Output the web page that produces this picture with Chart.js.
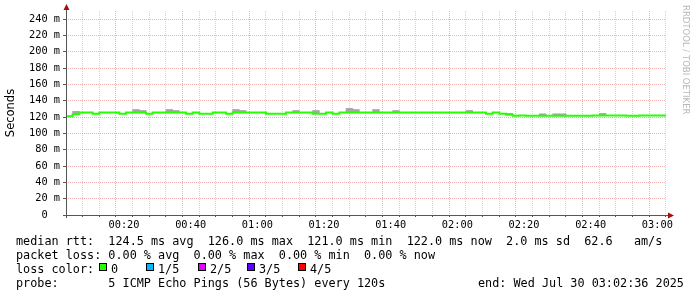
<!DOCTYPE html>
<html>
<head>
<meta charset="UTF-8">
<script src="https://cdn.jsdelivr.net/npm/chart.js@4"></script>
<style>
body { margin: 0; background: #fff; }
#wrap { position: relative; width: 697px; height: 297px; overflow: hidden; background: #fff; }
canvas { position: absolute; left: 0; top: 0; }
.leg { position: absolute; font: 11.8px 'DejaVu Sans Mono', monospace; color: #000; white-space: pre; line-height: 14px; }
.sq { position: absolute; top: 263px; width: 8px; height: 8px; border: 1px solid #000; box-sizing: border-box; }
.credit { position: absolute; left: 681px; top: 5px; writing-mode: vertical-rl; font: 8.5px 'DejaVu Sans', sans-serif; line-height: 10px; color: #b8b8b8; white-space: nowrap; }
</style>
</head>
<body>
<div id="wrap">
	<canvas id="c" width="697" height="297"></canvas>
	<div class="credit">RRDTOOL / TOBI OETIKER</div>
	<div class="leg" style="left:16px;top:234px">median rtt:  124.5 ms avg  126.0 ms max  121.0 ms min  122.0 ms now  2.0 ms sd  62.6   am/s</div>
	<div class="leg" style="left:16px;top:248px">packet loss: 0.00 % avg  0.00 % max  0.00 % min  0.00 % now</div>
	<div class="leg" style="left:16px;top:262px">loss color:</div>
	<div id="losses"></div>
	<div class="leg" style="left:16px;top:276px">probe:       5 ICMP Echo Pings (56 Bytes) every 120s</div>
	<div class="leg" style="left:478px;top:276px">end: Wed Jul 30 03:02:36 2025</div>
</div>
<script>
// time axis, minutes after midnight (00:02:36 .. 03:02:36)
const startMinute = 2.6;
const endMinute = 182.6;
const stepMinutes = 2;
const timeLabels = ['00:20', '00:40', '01:00', '01:20', '01:40', '02:00', '02:20', '02:40', '03:00'];
const yLabels = ['0  ', '20 m', '40 m', '60 m', '80 m', '100 m', '120 m', '140 m', '160 m', '180 m', '200 m', '220 m', '240 m'];

// median rtt per 2 min step, ms
const medianRtt = [
	121, 123.5, 125.5, 125.5, 124.2, 125.5, 125.5, 125.5, 124.2, 125.5,
	125.5, 125.5, 124.2, 125.5, 125.5, 125.5, 125.5, 125.5, 124.2, 125.5,
	124.2, 124.2, 125.5, 125.5, 124.2, 125.5, 125.5, 125.5, 125.5, 125.5,
	124.2, 124.2, 124.2, 125.5, 125.5, 125.5, 125.5, 124.2, 124.2, 125.5,
	124.2, 125.5, 125.5, 125.5, 125.5, 125.5, 125.5, 125.5, 125.5, 125.5,
	125.5, 125.5, 125.5, 125.5, 125.5, 125.5, 125.5, 125.5, 125.5, 125.5,
	125.5, 125.5, 125.5, 124.2, 125.5, 124, 123, 121.6, 122, 121.6,
	121.6, 121.6, 121.6, 121.6, 121.6, 121.6, 121.6, 121.6, 121.6, 122,
	122, 122, 122, 122, 121.6, 121.6, 122, 122, 122, 122
];
// top of the smoke (ping spread) per step, null where hidden under the median
const smokeTop = [
	null, 127, null, null, null, null, null, null, null, null,
	129.3, 128.1, null, null, null, 129.3, 128.1, null, null, null,
	null, null, null, null, null, 129.3, 128.1, null, null, null,
	null, null, null, null, 128.1, null, null, 128.1, null, null,
	null, null, 130.6, 129.3, null, null, 129.3, null, null, 128.1,
	null, null, null, null, null, null, null, null, null, null,
	128.1, null, null, null, null, null, 124.5, null, null, null,
	null, 124, null, 124, 124, null, null, null, null, null,
	124.5, null, null, null, null, null, null, null, null, null
];

const lossLabels = ['0', '1/5', '2/5', '3/5', '4/5'];
const lossColors = ['#26ff00', '#00b8ff', '#dd00ff', '#5e00ff', '#ff0000'];
const lossX = [99, 146, 198, 247, 298];

const losses = document.getElementById('losses');
lossLabels.forEach((l, i) => {
	const sq = document.createElement('div');
	sq.className = 'sq';
	sq.style.left = lossX[i] + 'px';
	sq.style.background = lossColors[i];
	losses.appendChild(sq);
	const t = document.createElement('div');
	t.className = 'leg';
	t.style.left = (lossX[i] + 12) + 'px';
	t.style.top = '262px';
	t.textContent = l;
	losses.appendChild(t);
});

const stepStart = medianRtt.map((v, i) => startMinute + i * stepMinutes);
const linePts = medianRtt.map((v, i) => ({ x: stepStart[i], y: v }));
linePts.push({ x: endMinute, y: medianRtt[medianRtt.length - 1] });
const smokePts = medianRtt.map((v, i) => ({ x: stepStart[i] + stepMinutes / 2, y: smokeTop[i] == null ? null : [v, smokeTop[i]] }));

const labelMinutes = timeLabels.map(t => +t.slice(0, 2) * 60 + +t.slice(3));
const xGrid = [];
for (let m = 5; m < endMinute; m += 5) xGrid.push(m);
const yGrid = [];
for (let v = 0; v <= 240; v += 10) yGrid.push(v);

const minorCol = 'rgba(140,140,140,0.38)';
const majorCol = 'rgba(225,70,70,0.42)';
const tickFont = { family: 'DejaVu Sans Mono', size: 10.3 };

const axesPlugin = {
	id: 'axes',
	afterDraw(chart) {
		const { ctx, chartArea: a } = chart;
		ctx.save();
		ctx.strokeStyle = '#555';
		ctx.lineWidth = 1;
		ctx.beginPath();
		ctx.moveTo(a.left + 0.5, a.bottom + 3);
		ctx.lineTo(a.left + 0.5, a.top - 3);
		ctx.moveTo(a.left - 3, a.bottom + 0.5);
		ctx.lineTo(a.right + 4, a.bottom + 0.5);
		ctx.stroke();
		ctx.fillStyle = '#a01010';
		ctx.beginPath();
		ctx.moveTo(a.left + 0.5, a.top - 7);
		ctx.lineTo(a.left - 2.5, a.top - 1);
		ctx.lineTo(a.left + 3.5, a.top - 1);
		ctx.fill();
		ctx.beginPath();
		ctx.moveTo(a.right + 8, a.bottom + 0.5);
		ctx.lineTo(a.right + 2, a.bottom - 2.5);
		ctx.lineTo(a.right + 2, a.bottom + 3.5);
		ctx.fill();
		ctx.restore();
	}
};

new Chart(document.getElementById('c'), {
	type: 'bar',
	data: {
		datasets: [
			{ type: 'line', label: 'median', data: linePts, borderColor: '#26ff00', borderWidth: 2, pointRadius: 0, stepped: 'before', fill: false, order: 0 },
			{ type: 'bar', label: 'smoke', data: smokePts, backgroundColor: '#a6a6a6', borderWidth: 0, barPercentage: 1, categoryPercentage: 1, grouped: false, order: 1 }
		]
	},
	options: {
		responsive: false,
		devicePixelRatio: 1,
		animation: false,
		layout: { padding: { top: 11, right: 31, bottom: 0, left: 0 } },
		plugins: { legend: { display: false }, tooltip: { enabled: false } },
		scales: {
			x: {
				type: 'linear',
				min: startMinute,
				max: endMinute,
				offset: false,
				afterBuildTicks: s => { s.ticks = xGrid.map(v => ({ value: v })); },
				afterFit: s => { s.height = 82; },
				border: { display: false, dash: [1, 1] },
				grid: {
					color: c => (c.tick && labelMinutes.includes(c.tick.value)) ? majorCol : minorCol,
					tickLength: 2,
					tickColor: '#555',
					tickBorderDash: []
				},
				ticks: {
					autoSkip: false,
					maxRotation: 0,
					padding: 2,
					color: '#000',
					font: tickFont,
					callback: v => { const i = labelMinutes.indexOf(v); return i < 0 ? '' : timeLabels[i]; }
				}
			},
			y: {
				min: 0,
				max: 250,
				afterBuildTicks: s => { s.ticks = yGrid.map(v => ({ value: v })); },
				afterFit: s => { s.width = 66; },
				border: { display: false, dash: [1, 1] },
				title: { display: true, text: 'Seconds', color: '#000', font: { family: 'DejaVu Sans', size: 11.5 }, padding: { top: 4, bottom: 0 } },
				grid: {
					color: c => (c.tick && c.tick.value % 20 === 0) ? majorCol : minorCol,
					tickLength: 3,
					tickColor: '#555',
					tickBorderDash: []
				},
				ticks: {
					padding: 3,
					color: '#000',
					font: tickFont,
					callback: v => v % 20 === 0 ? yLabels[v / 20] : ''
				}
			}
		}
	},
	plugins: [axesPlugin]
});
</script>
</body>
</html>
